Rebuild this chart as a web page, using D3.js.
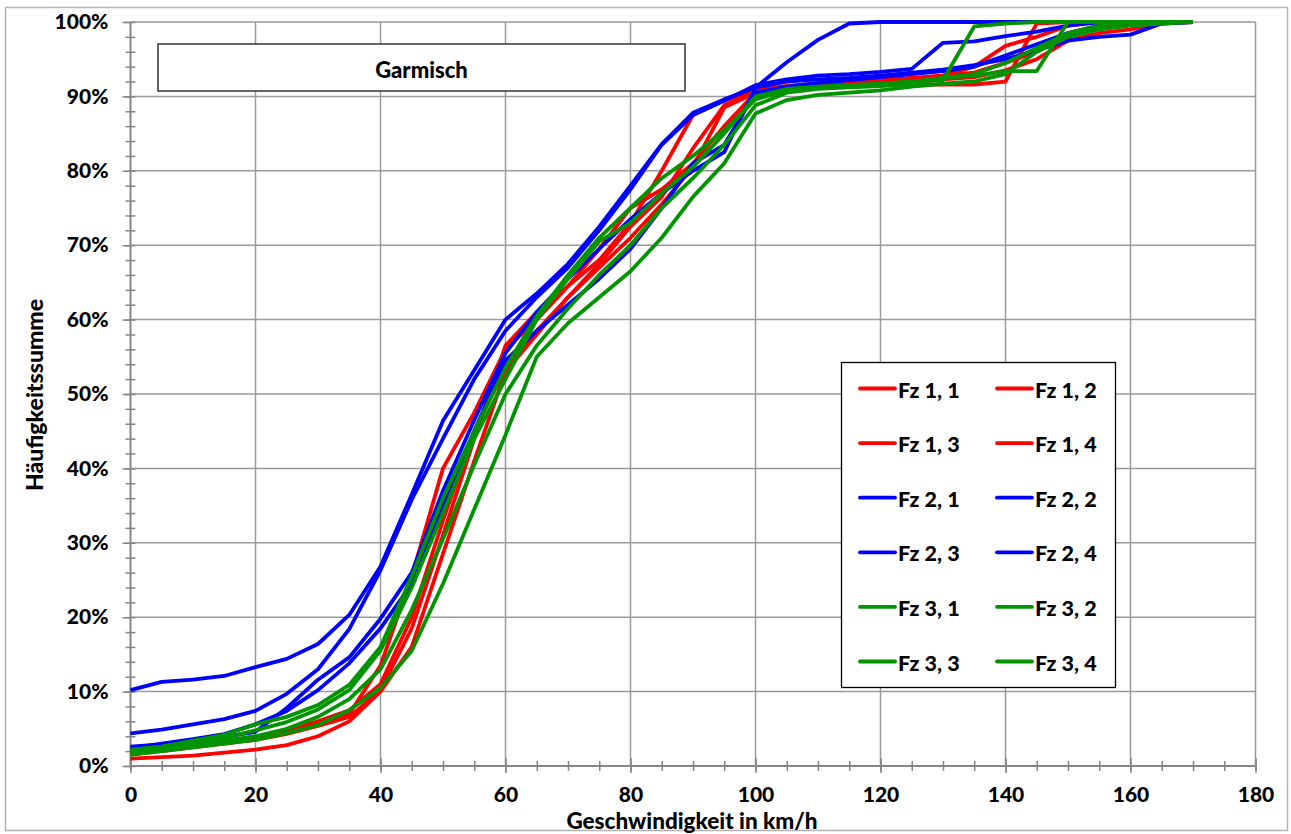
<!DOCTYPE html>
<html><head><meta charset="utf-8">
<script src="https://cdn.jsdelivr.net/npm/d3@7"></script>
<style>
html,body{margin:0;padding:0;background:#fff;}
text{font-family:Lato,"Open Sans",sans-serif;font-weight:900;fill:#000;}
</style></head>
<body><svg id="c" width="1291" height="834"></svg>
<script>
// speeds in km/h
const speeds = d3.range(0, 175, 5);
// cumulative frequency in %
const fz11 = [1.0,1.2,1.4,1.8,2.2,2.8,4.0,6.0,10.0,16.0,28.5,41,53,58,63,67,71,75.5,80.5,88.5,90.5,91,91.3,91.5,91.6,91.6,91.6,91.6,92.0,99.8,100,100,100,100,100];
const fz12 = [1.8,2.3,2.8,3.2,3.7,4.5,5.6,7.0,13.5,25.5,40,47.5,56,60,64.5,69.5,75,77.5,81,86,90.5,91.3,91.6,91.8,92.0,92.4,92.8,94,96.8,98,99.5,100,100,100,100];
const fz13 = [2.0,2.4,2.9,3.3,3.8,4.8,6.0,7.5,11,20,33,45,53.5,58.5,63,67.5,72.5,76.5,83,88.8,90.8,91.2,91.4,91.5,91.7,92,92.3,92.6,93.5,95,97.5,98.5,99,99.8,100];
const fz14 = [1.6,2.0,2.5,3.0,3.5,4.3,5.4,6.6,10.2,18.5,31,44,56.5,61,64.5,68,73,80,87.5,89.5,90.8,91.4,91.7,91.9,92.2,92.5,92.8,93.2,94.5,96,98.5,99.2,99.6,100,100];
const fz21 = [10.2,11.3,11.6,12.1,13.3,14.4,16.4,20.3,26.8,36.5,46.4,53.2,60,63.5,67.5,72.5,78,83.6,87.8,89.6,91.2,94.6,97.6,99.8,100,100,100,100,100,100,100,100,100,100,100];
const fz22 = [4.4,4.9,5.6,6.3,7.4,9.7,13,18.4,26.3,35.8,44,52,58.5,63,67,72,77.5,83.5,87.5,89.4,91.5,92.3,92.8,93,93.3,93.7,97.2,97.4,98.1,98.7,99.5,100,100,100,100];
const fz23 = [2.6,2.9,3.4,3.9,4.6,7.8,11.6,14.6,19.8,26,37,46.5,55.5,61,65.5,69.5,73.5,77,80,82.5,91.2,92,92.3,92.5,92.8,93.2,93.6,94.2,95,96.2,97.5,98,98.3,99.8,100];
const fz24 = [2.4,3.0,3.6,4.3,5.6,7.4,10.2,13.8,18.5,24.5,35,45,54.5,58.5,62,65.5,69.5,75,81,83.5,90.5,91.3,91.8,92.2,92.6,93,93.4,94,95.5,97,98.5,99.5,100,100,100];
const fz31 = [2.2,2.6,3.2,3.8,4.8,5.9,7.6,10.2,15.5,24,34,44,52,60,65.5,70.5,73,77,80.5,85,90,91,91.3,91.5,91.7,92,92.2,99.4,99.8,100,100,100,100,100,100];
const fz32 = [2.0,2.6,3.4,4.2,5.6,6.6,8.2,10.9,16,25.5,36,45,53.5,60.5,66,71,75,79,82,85.5,89.6,90.8,91.2,91.4,91.6,92,92.5,92.8,93.4,93.4,100,100,100,100,100];
const fz33 = [1.8,2.3,2.9,3.4,4.0,5.0,6.6,9,13,21,30.5,40.5,50,56.5,61.5,66,70,75,79,83.5,88.8,90.5,91,91.2,91.4,91.7,92.5,93,94.5,96.5,98.5,99.5,100,100,100];
const fz34 = [1.5,2.0,2.5,3.0,3.5,4.4,5.5,7.5,10.5,15.5,24.5,34.5,44.5,55,59.5,63,66.5,71,76.5,81,87.7,89.5,90.2,90.5,90.8,91.3,91.7,92,93,96,98,99,99.5,99.8,100];

const seriesNames = ["Fz 1, 1","Fz 1, 2","Fz 1, 3","Fz 1, 4","Fz 2, 1","Fz 2, 2","Fz 2, 3","Fz 2, 4","Fz 3, 1","Fz 3, 2","Fz 3, 3","Fz 3, 4"];
const seriesValues = [fz11,fz12,fz13,fz14,fz21,fz22,fz23,fz24,fz31,fz32,fz33,fz34];
const seriesColors = ["#ff0000","#ff0000","#ff0000","#ff0000","#0000ff","#0000ff","#0000ff","#0000ff","#009400","#009400","#009400","#009400"];
const xTicks = [0,20,40,60,80,100,120,140,160,180];
const yTicks = [0,10,20,30,40,50,60,70,80,90,100];
const chartTitle = "Garmisch";
const xTitle = "Geschwindigkeit in km/h";
const yTitle = "Häufigkeitssumme";

const svg = d3.select("#c");
const L = 130.5, R = 1255.5, T = 22, B = 766;
const x = d3.scaleLinear().domain([0,180]).range([L,R]);
const y = d3.scaleLinear().domain([0,100]).range([B,T]);

// outer border
svg.append("rect").attr("x",5.5).attr("y",7.5).attr("width",1282).attr("height",823)
  .attr("fill","#fff").attr("stroke","#b3b3b3").attr("stroke-width",1.5);

// grid
const grid = svg.append("g");
grid.selectAll(".gx").data(xTicks.slice(1)).join("line")
  .attr("x1",d=>x(d)).attr("x2",d=>x(d)).attr("y1",T).attr("y2",B)
  .attr("stroke","#9a9a9a").attr("stroke-width",1.5);
grid.selectAll(".gy").data(yTicks.slice(1)).join("line")
  .attr("x1",L).attr("x2",R).attr("y1",d=>y(d)).attr("y2",d=>y(d))
  .attr("stroke","#9a9a9a").attr("stroke-width",1.5);

// axes
const axisColor = "#868686";
function styleAxis(g){
  g.select(".domain").remove();
  g.selectAll("line").attr("stroke",axisColor).attr("stroke-width",1.5);
}
// x minor
svg.append("g").attr("transform",`translate(0,${B-5})`)
  .call(d3.axisBottom(x).tickValues(d3.range(0,185,5)).tickSize(10).tickFormat(""))
  .call(styleAxis);
// x major
const gx = svg.append("g").attr("transform",`translate(0,${B-8})`)
  .call(d3.axisBottom(x).tickValues(xTicks).tickSize(15).tickPadding(14).tickFormat(d3.format("d")))
  .call(styleAxis);
gx.selectAll("text").attr("font-size",21).attr("font-family","Lato, sans-serif").attr("font-weight",900).attr("fill","#000");
// y minor
svg.append("g").attr("transform",`translate(${L+5},0)`)
  .call(d3.axisLeft(y).tickValues(d3.range(0,102,2)).tickSize(10).tickFormat(""))
  .call(styleAxis);
// y major
const gy = svg.append("g").attr("transform",`translate(${L},0)`)
  .call(d3.axisLeft(y).tickValues(yTicks).tickSize(8).tickPadding(14).tickFormat(d=>d+"%"))
  .call(styleAxis);
gy.selectAll("text").attr("font-size",21).attr("font-family","Lato, sans-serif").attr("font-weight",900).attr("fill","#000");

// axis lines
svg.append("line").attr("x1",L).attr("x2",R).attr("y1",B).attr("y2",B).attr("stroke",axisColor).attr("stroke-width",2);
svg.append("line").attr("x1",L).attr("x2",L).attr("y1",T).attr("y2",B).attr("stroke",axisColor).attr("stroke-width",2);

// series
const line = d3.line().x((d,i)=>x(speeds[i])).y(d=>y(d));
svg.append("g").selectAll("path").data(seriesValues).join("path")
  .attr("d",line).attr("fill","none")
  .attr("stroke",(d,i)=>seriesColors[i]).attr("stroke-width",3.8)
  .attr("stroke-linejoin","round");

// title box
svg.append("rect").attr("x",158).attr("y",44).attr("width",527).attr("height",47)
  .attr("fill","#fff").attr("stroke","#333").attr("stroke-width",1.5);
svg.append("text").attr("x",421.5).attr("y",69).attr("text-anchor","middle")
  .attr("dominant-baseline","central").attr("font-size",22).text(chartTitle);

// legend
const lg = svg.append("g");
lg.append("rect").attr("x",841.5).attr("y",362.5).attr("width",274).attr("height",325)
  .attr("fill","#fff").attr("stroke","#000").attr("stroke-width",1.3);
seriesNames.forEach((n,i)=>{
  const col = i%2, row = Math.floor(i/2);
  const lx = 860 + col*137, ly = 388.5 + row*54.6;
  lg.append("line").attr("x1",lx).attr("x2",lx+35).attr("y1",ly).attr("y2",ly)
    .attr("stroke",seriesColors[i]).attr("stroke-width",3.8).attr("stroke-linecap","round");
  lg.append("text").attr("x",lx+38).attr("y",ly+1).attr("dominant-baseline","central")
    .attr("font-size",21.5).text(n);
});

// axis titles
svg.append("text").attr("x",692).attr("y",820).attr("text-anchor","middle")
  .attr("dominant-baseline","central").attr("font-size",22.5).text(xTitle);
svg.append("text").attr("transform","translate(34,395) rotate(-90)").attr("text-anchor","middle")
  .attr("dominant-baseline","central").attr("font-size",23).text(yTitle);
</script></body></html>
